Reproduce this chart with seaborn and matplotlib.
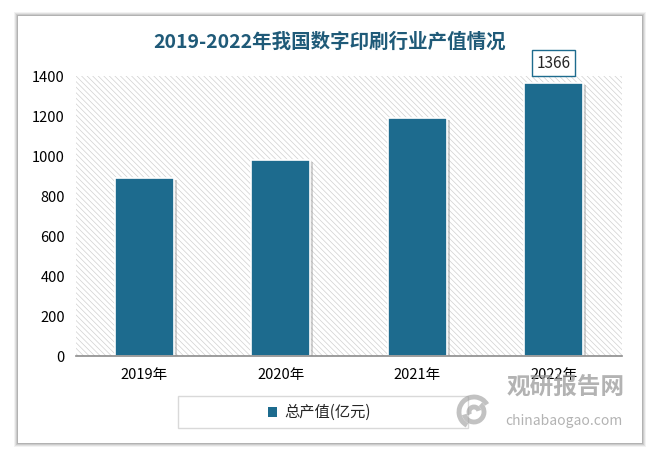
import numpy as np
import pandas as pd
import matplotlib
matplotlib.use("Agg")
import matplotlib.pyplot as plt
import matplotlib.transforms as mtransforms
from matplotlib.patches import Rectangle, Arc
import seaborn as sns

# 数据
years = ["2019年", "2020年", "2021年", "2022年"]
values = [888, 980, 1190, 1366]
series_name = "总产值(亿元)"
title = "2019-2022年我国数字印刷行业产值情况"
y_ticks = [0, 200, 400, 600, 800, 1000, 1200, 1400]

bar_color = "#1d6b8e"
title_color = "#1f5a78"

sns.set_style("white")
plt.rcParams['font.family'] = ['Noto Sans CJK SC', 'DejaVu Sans']

W, H = 659, 458
fig = plt.figure(figsize=(W / 100, H / 100), dpi=100)
fig.patch.set_facecolor("white")


def fx(px):
    return px / W


def fy(py):
    return 1 - py / H


# 卡片阴影 + 白色卡片
for i, a in enumerate([0.05, 0.07, 0.09, 0.12]):
    d = 4 - i
    fig.patches.append(Rectangle((fx(18 - d), fy(443 + d)), fx(624 + 2 * d), (427 + 2 * d) / H,
                                 transform=fig.transFigure, facecolor="black", alpha=a,
                                 edgecolor="none", zorder=0))
fig.patches.append(Rectangle((fx(18), fy(443)), fx(624), 427 / H, transform=fig.transFigure,
                             facecolor="white", edgecolor="none", zorder=1))

ax = fig.add_axes([fx(76), fy(356), fx(546), 280 / H])
ax.set_facecolor("white")
ax.set_zorder(2)

# 斜线底纹
plt.rcParams['hatch.color'] = '#d0d0d0'
plt.rcParams['hatch.linewidth'] = 0.5
ax.add_patch(Rectangle((0, 0), 1, 1, transform=ax.transAxes, facecolor="white",
                       edgecolor="#d0d0d0", hatch="\\\\\\\\\\\\", linewidth=0, zorder=0))

df = pd.DataFrame({"year": years, "value": values})

# 柱子阴影
sns.barplot(data=df, x="year", y="value", color="#9a9a9a", width=0.43, saturation=1,
            linewidth=0, ax=ax, zorder=2, alpha=0.45)
shadow_tr = mtransforms.offset_copy(ax.transData, fig=fig, x=3, y=-2, units="dots")
for p in ax.containers[0]:
    p.set_transform(shadow_tr)

sns.barplot(data=df, x="year", y="value", color=bar_color, width=0.43, saturation=1,
            edgecolor="white", linewidth=1.2, ax=ax, zorder=3)

ax.set_ylim(0, 1400)
ax.set_yticks(y_ticks)
ax.set_xlim(-0.5, 3.5)
ax.set_xlabel("")
ax.set_ylabel("")
for s in ["top", "right", "left"]:
    ax.spines[s].set_visible(False)
ax.spines["bottom"].set_color("#8c8c8c")
ax.spines["bottom"].set_linewidth(1.2)
ax.spines["bottom"].set_zorder(4)
ax.tick_params(axis="both", length=0, labelsize=10.5, colors="black")
ax.tick_params(axis="y", pad=8)
ax.tick_params(axis="x", pad=9)

# 数据标签
ax.annotate(str(values[-1]), xy=(3, values[-1]), xytext=(0, 14), textcoords="offset points",
            ha="center", va="center", fontsize=11,
            bbox=dict(boxstyle="square,pad=0.3", facecolor="white", edgecolor=bar_color, linewidth=1))

fig.text(fx(330), fy(42), title, ha="center", va="center", fontsize=14,
         fontweight="bold", color=title_color)

# 图例
fig.patches.append(Rectangle((fx(178), fy(428)), fx(290), 32 / H, transform=fig.transFigure,
                             facecolor="white", edgecolor="#d9d9d9", linewidth=1, zorder=3))
fig.patches.append(Rectangle((fx(268), fy(417)), fx(9), 10 / H, transform=fig.transFigure,
                             facecolor=bar_color, edgecolor="none", zorder=4))
fig.text(fx(284), fy(412), series_name, ha="left", va="center", fontsize=11, zorder=5)

# 水印
wm = "#9a9a9a"
for r, t1, t2 in [(15, 40, 250), (10, 200, 60), (5, 20, 220)]:
    fig.patches.append(Arc((fx(474), fy(412)), 2 * r / W, 2 * r / H, theta1=t1, theta2=t2,
                           transform=fig.transFigure, color=wm, linewidth=3.5, alpha=0.6, zorder=6))
fig.text(fx(507), fy(387), "观研报告网", ha="left", va="center", fontsize=17,
         fontweight="bold", color=wm, alpha=0.75, zorder=6)
fig.text(fx(505), fy(421), "chinabaogao.com", ha="left", va="center", fontsize=10,
         color=wm, alpha=0.75, zorder=6)

fig.savefig("out.png", dpi=100)
